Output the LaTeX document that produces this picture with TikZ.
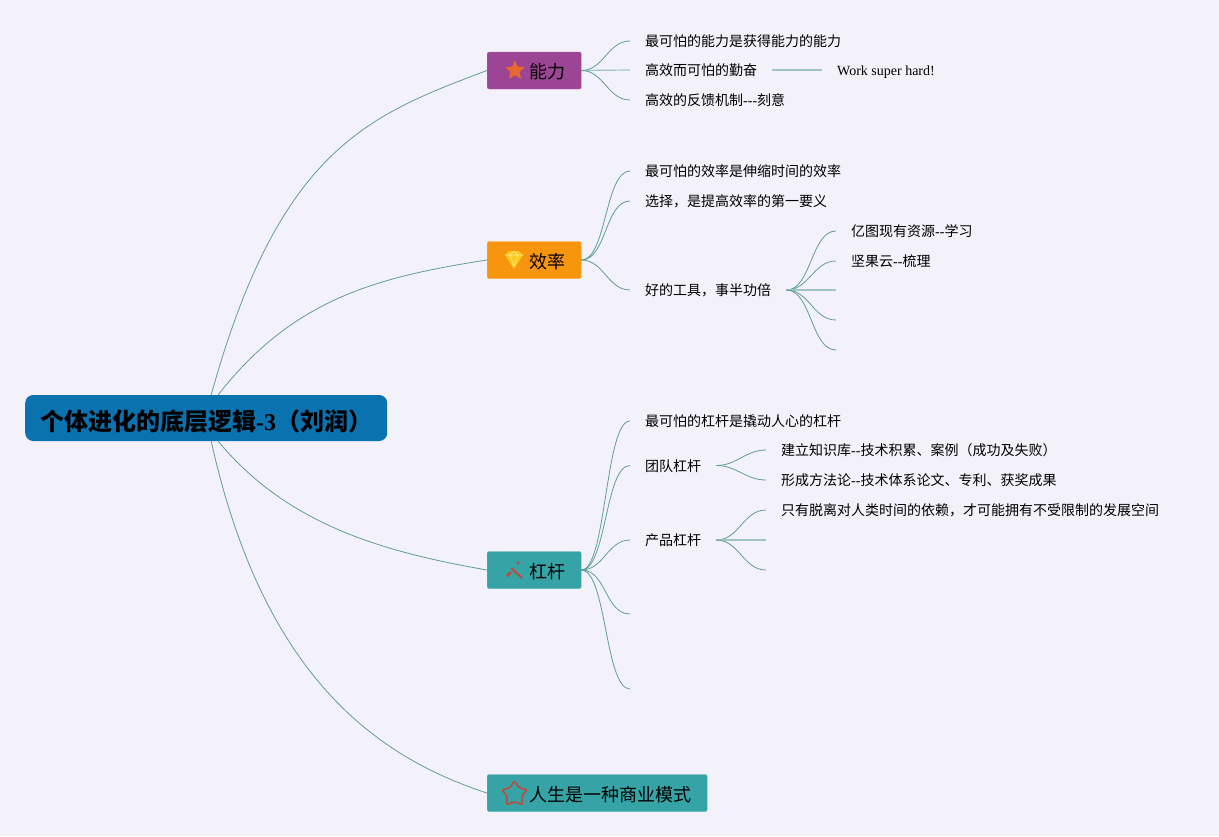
\documentclass[tikz,border=0pt]{standalone}
\usepackage{fontspec}
\setmainfont{Liberation Serif}
\newfontfamily\cjk{Noto Sans CJK SC}
\usetikzlibrary{shapes.geometric}
\definecolor{pagebg}{HTML}{F3F2FA}
\definecolor{linkc}{HTML}{5F9F92}
\definecolor{rootc}{HTML}{0B72B0}
\definecolor{purplec}{HTML}{9B4594}
\definecolor{orangec}{HTML}{F8950E}
\definecolor{tealc}{HTML}{36A3A6}
\definecolor{iconred}{HTML}{C4483A}
\definecolor{iconorange}{HTML}{E8682E}
\definecolor{icongold}{HTML}{FFC81E}
\definecolor{gemline}{HTML}{FFE98A}
\newcommand{\lat}[1]{{\rmfamily #1}}
\tikzset{
    rootbox/.style={anchor=west, fill=rootc, rounded corners=8, minimum height=46, minimum width=362, inner sep=0, text height=28, text depth=4, font=\cjk\bfseries\fontsize{24}{24}\selectfont},
    topic/.style={anchor=west, fill=#1, draw=#1!85!white, line width=0.4, rounded corners=2, minimum height=37, inner xsep=0, text height=18, text depth=2, font=\cjk\fontsize{18}{18}\selectfont},
    leaf/.style={anchor=west, inner xsep=15, inner ysep=0, text height=14.5, text depth=3, font=\cjk\fontsize{14}{14}\selectfont},
    link/.style={draw=linkc, line width=0.8},
    flat/.style={draw=linkc!60!white, line width=1.2},
    curve/.style={link, out=0, in=180, max distance=25}
}
\begin{document}
\begin{tikzpicture}[x=1pt, y=-1pt]
    \useasboundingbox (0,0) rectangle (1219,836);
    \fill[pagebg] (0,0) rectangle (1219,836);

    % main nodes
    \node[rootbox] (root) at (25,418) {个体进化的底层逻辑\lat{-3}（刘润）};
    \node[topic=purplec] (cap) at (487,70.5) {\hspace*{42pt}能力\hspace*{16pt}};
    \node[topic=orangec] (eff) at (487,260) {\hspace*{42pt}效率\hspace*{16pt}};
    \node[topic=tealc] (lev) at (487,570) {\hspace*{42pt}杠杆\hspace*{16pt}};
    \node[topic=tealc] (biz) at (487,793) {\hspace*{42pt}人生是一种商业模式\hspace*{16pt}};

    % icons
    \node[star, star points=5, star point ratio=2.3, fill=iconorange, rounded corners=1, inner sep=0, minimum size=21] (staricon) at (515,70.5) {};
    \fill[icongold] (505,255) -- (509,251) -- (519,251) -- (523,255) -- (514,269) -- cycle;
    \draw[gemline, line width=0.6] (505,255) -- (523,255) (510,255) -- (514,266) -- (518,255) (510,255) -- (514,251) -- (518,255);
    \draw[iconred, line width=2] (511,568) -- (522,578);
    \draw[iconred, line width=2.5] (507,576) -- (511,572);
    \fill[iconred] (518,563) circle (1.7);
    \node[star, star points=5, star point ratio=1.8, draw=iconred, line width=1.5, rounded corners=2, inner sep=0, minimum size=27] (staroutline) at (514.5,794) {};

    % capability
    \node[leaf] (cap1) at (630,41) {最可怕的能力是获得能力的能力};
    \node[leaf] (cap2) at (630,70) {高效而可怕的勤奋};
    \node[leaf] (cap3) at (630,100) {高效的反馈机制\lat{-{}-{}-}刻意};
    \node[leaf, font=\rmfamily\fontsize{14}{14}\selectfont] (cap21) at (822,70) {Work super hard!};

    % efficiency
    \node[leaf] (eff1) at (630,171) {最可怕的效率是伸缩时间的效率};
    \node[leaf] (eff2) at (630,201) {选择，是提高效率的第一要义};
    \node[leaf] (eff3) at (630,290) {好的工具，事半功倍};
    \node[leaf] (eff31) at (836,231) {亿图现有资源\lat{-{}-}学习};
    \node[leaf] (eff32) at (836,261) {坚果云\lat{-{}-}梳理};
    \coordinate (eff33) at (836,290);
    \coordinate (eff34) at (836,320);
    \coordinate (eff35) at (836,350);

    % leverage
    \node[leaf] (lev1) at (630,421) {最可怕的杠杆是撬动人心的杠杆};
    \node[leaf] (lev2) at (630,465.5) {团队杠杆};
    \node[leaf] (lev3) at (630,540) {产品杠杆};
    \coordinate (lev4) at (630,614);
    \coordinate (lev5) at (630,689);
    \node[leaf] (lev21) at (766,450) {建立知识库\lat{-{}-}技术积累、案例（成功及失败）};
    \node[leaf] (lev22) at (766,480) {形成方法论\lat{-{}-}技术体系论文、专利、获奖成果};
    \node[leaf] (lev31) at (766,510) {只有脱离对人类时间的依赖，才可能拥有不受限制的发展空间};
    \coordinate (lev32) at (766,540);
    \coordinate (lev33) at (766,570);

    % root links
    \draw[link] ([xshift=5]root.north) .. controls +(68,-245) and +(-120,45) .. (cap.west);
    \draw[link] ([xshift=12]root.north) .. controls +(75,-96) and +(-110,17) .. (eff.west);
    \draw[link] ([xshift=12]root.south) .. controls +(70,85) and +(-100,-17.5) .. (lev.west);
    \draw[link] ([xshift=5]root.south) .. controls +(50,225) and +(-120,-39) .. (biz.west);

    \draw[curve] (cap.east) to (cap1.west);
    \draw[flat] (cap.east) to (cap2.west);
    \draw[curve] (cap.east) to (cap3.west);
    \draw[flat] (cap2.east) to (cap21.west);

    \draw[curve] (eff.east) to (eff1.west);
    \draw[curve] (eff.east) to (eff2.west);
    \draw[curve] (eff.east) to (eff3.west);
    \foreach \n in {eff31,eff32}
        \draw[curve] (eff3.east) to (\n.west);
    \draw[flat] (eff3.east) to (eff33);
    \foreach \n in {eff34,eff35}
        \draw[curve] (eff3.east) to (\n);

    \foreach \n in {lev1,lev2,lev3}
        \draw[curve] (lev.east) to (\n.west);
    \foreach \n in {lev4,lev5}
        \draw[curve] (lev.east) to (\n);
    \foreach \n in {lev21,lev22}
        \draw[curve] (lev2.east) to (\n.west);
    \draw[curve] (lev3.east) to (lev31.west);
    \draw[flat] (lev3.east) to (lev32);
    \draw[curve] (lev3.east) to (lev33);
\end{tikzpicture}
\end{document}
